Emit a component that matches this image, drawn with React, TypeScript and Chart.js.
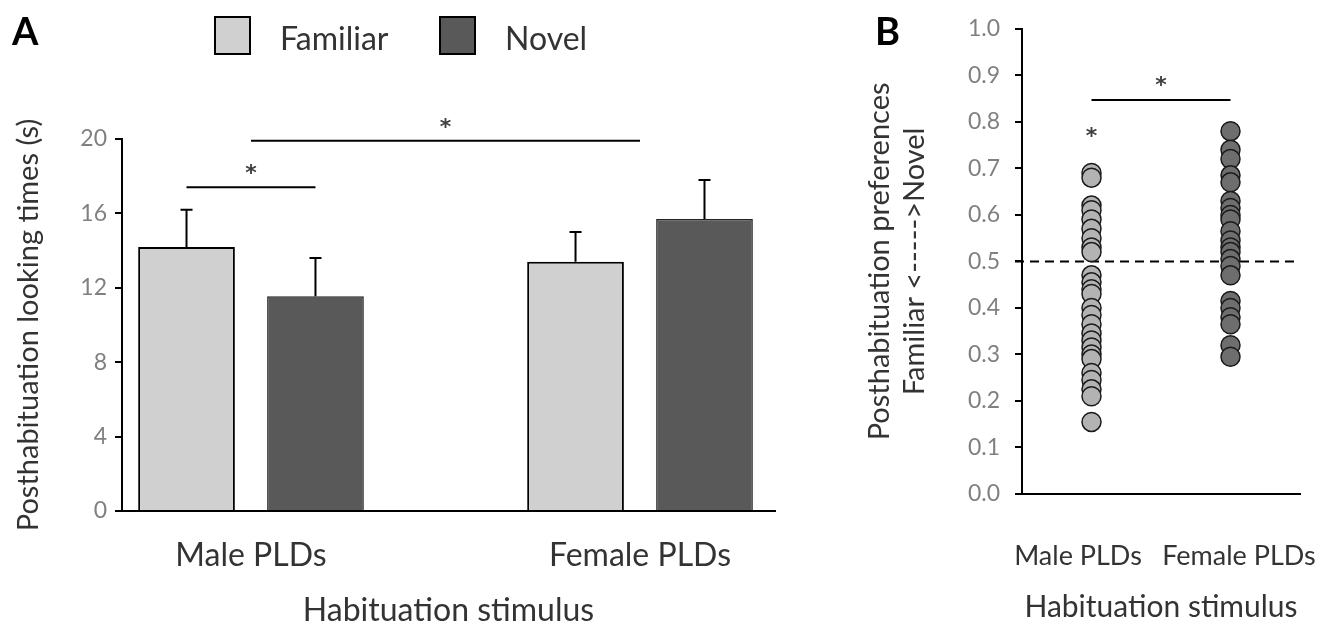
import React, { useEffect, useRef } from 'react';
import { Chart, registerables } from 'chart.js';

Chart.register(...registerables);

// ---------- Data ----------
const groups = ['Male PLDs', 'Female PLDs'];
const seriesNames = ['Familiar', 'Novel'];
const familiarMeans = [14.2, 13.4];
const familiarErrors = [2.0, 1.6];
const novelMeans = [11.55, 15.7];
const novelErrors = [2.05, 2.1];
const barYTicks = [0, 4, 8, 12, 16, 20];

const prefYTicks = [0, 0.1, 0.2, 0.3, 0.4, 0.5, 0.6, 0.7, 0.8, 0.9, 1.0];
const malePreferences = [0.69, 0.68, 0.62, 0.61, 0.59, 0.57, 0.55, 0.53, 0.52, 0.47, 0.455, 0.44, 0.43, 0.4, 0.385, 0.365, 0.345, 0.33, 0.315, 0.3, 0.29, 0.26, 0.245, 0.225, 0.21, 0.155];
const femalePreferences = [0.78, 0.74, 0.72, 0.685, 0.67, 0.63, 0.615, 0.6, 0.59, 0.565, 0.545, 0.53, 0.52, 0.505, 0.49, 0.47, 0.415, 0.4, 0.38, 0.365, 0.32, 0.295];
const chanceLevel = 0.5;

// significance markers: [group, series] (series -1 = group centre)
const barBrackets = [
  { left: [0, 0], right: [0, 1], level: 17.4, starLevel: 18.3 },
  { left: [0, -1], right: [1, -1], level: 19.9, starLevel: 20.8 },
];
const prefBracket = { left: 0, right: 1, level: 0.847, starLevel: 0.885 };
const prefSingleStar = { group: 0, level: 0.775 };

// ---------- Styles ----------
const FONT = "Lato, 'Open Sans', 'DejaVu Sans', sans-serif";
const TEXT = '#333333';
const TICK = '#808080';
const FAMILIAR_FILL = '#d0d0d0';
const NOVEL_FILL = '#595959';
const MALE_POINT = '#b3b3b3';
const FEMALE_POINT = '#6e6e6e';
const errorArrays = [familiarErrors, novelErrors];

function drawStar(ctx: CanvasRenderingContext2D, x: number, y: number) {
  ctx.save();
  ctx.fillStyle = '#404040';
  ctx.font = "bold 22px 'DejaVu Sans', sans-serif";
  ctx.textAlign = 'center';
  ctx.textBaseline = 'middle';
  ctx.fillText('*', x, y + 4);
  ctx.restore();
}

const panelAOverlay = {
  id: 'panelAOverlay',
  afterDraw(chart: any) {
    const ctx: CanvasRenderingContext2D = chart.ctx;
    const xs = chart.scales.x;
    const ys = chart.scales.y;
    ctx.save();
    // error bars
    chart.data.datasets.forEach((ds: any, di: number) => {
      const meta = chart.getDatasetMeta(di);
      meta.data.forEach((bar: any, gi: number) => {
        const v = ds.data[gi].y;
        const top = ys.getPixelForValue(v + errorArrays[di][gi]);
        ctx.strokeStyle = '#000';
        ctx.lineWidth = 2;
        ctx.beginPath();
        ctx.moveTo(bar.x, bar.y);
        ctx.lineTo(bar.x, top);
        ctx.moveTo(bar.x - 6, top);
        ctx.lineTo(bar.x + 6, top);
        ctx.stroke();
      });
    });
    // brackets
    const xOf = (g: number, s: number) =>
      s < 0 ? xs.getPixelForValue(g) : chart.getDatasetMeta(s).data[g].x;
    barBrackets.forEach((b) => {
      const x1 = xOf(b.left[0], b.left[1]);
      const x2 = xOf(b.right[0], b.right[1]);
      const y = ys.getPixelForValue(b.level);
      ctx.strokeStyle = '#000';
      ctx.lineWidth = 2;
      ctx.beginPath();
      ctx.moveTo(x1, y);
      ctx.lineTo(x2, y);
      ctx.stroke();
      drawStar(ctx, (x1 + x2) / 2, ys.getPixelForValue(b.starLevel));
    });
    // legend
    const fills = [FAMILIAR_FILL, NOVEL_FILL];
    const boxX = [215, 440];
    seriesNames.forEach((name, i) => {
      ctx.fillStyle = fills[i];
      ctx.fillRect(boxX[i], 17, 35, 37);
      ctx.strokeStyle = '#000';
      ctx.lineWidth = 2;
      ctx.strokeRect(boxX[i], 17, 35, 37);
      ctx.fillStyle = TEXT;
      ctx.font = `32px ${FONT}`;
      ctx.textAlign = 'left';
      ctx.textBaseline = 'middle';
      ctx.fillText(name, boxX[i] + 65, 40);
    });
    // panel label
    ctx.fillStyle = '#000';
    ctx.font = `bold 38px ${FONT}`;
    ctx.textAlign = 'left';
    ctx.textBaseline = 'middle';
    ctx.fillText('A', 12, 33);
    ctx.restore();
  },
};

const panelBUnder = {
  id: 'panelBUnder',
  beforeDatasetsDraw(chart: any) {
    const ctx: CanvasRenderingContext2D = chart.ctx;
    const ys = chart.scales.y;
    const area = chart.chartArea;
    const y = ys.getPixelForValue(chanceLevel);
    ctx.save();
    ctx.strokeStyle = '#000';
    ctx.lineWidth = 2;
    ctx.setLineDash([9, 6]);
    ctx.beginPath();
    ctx.moveTo(area.left - 7, y);
    ctx.lineTo(area.right - 3, y);
    ctx.stroke();
    ctx.restore();
  },
  afterDraw(chart: any) {
    const ctx: CanvasRenderingContext2D = chart.ctx;
    const xs = chart.scales.x;
    const ys = chart.scales.y;
    ctx.save();
    const x1 = xs.getPixelForValue(prefBracket.left);
    const x2 = xs.getPixelForValue(prefBracket.right);
    const y = ys.getPixelForValue(prefBracket.level);
    ctx.strokeStyle = '#000';
    ctx.lineWidth = 2;
    ctx.beginPath();
    ctx.moveTo(x1, y);
    ctx.lineTo(x2, y);
    ctx.stroke();
    drawStar(ctx, (x1 + x2) / 2, ys.getPixelForValue(prefBracket.starLevel));
    drawStar(ctx, xs.getPixelForValue(prefSingleStar.group), ys.getPixelForValue(prefSingleStar.level));
    ctx.fillStyle = '#000';
    ctx.font = `bold 38px ${FONT}`;
    ctx.textAlign = 'left';
    ctx.textBaseline = 'middle';
    ctx.fillText('B', 15, 33);
    ctx.restore();
  },
};

function configA(): any {
  return {
    type: 'bar',
    data: {
      datasets: [
        {
          label: seriesNames[0],
          data: groups.map((_, i) => ({ x: i, y: familiarMeans[i] })),
          backgroundColor: FAMILIAR_FILL,
          borderColor: '#000',
          borderWidth: 2,
        },
        {
          label: seriesNames[1],
          data: groups.map((_, i) => ({ x: i, y: novelMeans[i] })),
          backgroundColor: NOVEL_FILL,
          borderColor: '#222',
          borderWidth: 1.5,
        },
      ],
    },
    options: {
      animation: false,
      responsive: false,
      layout: { padding: { top: 139, right: 25, left: 0, bottom: 0 } },
      datasets: { bar: { categoryPercentage: 0.663, barPercentage: 0.75 } },
      plugins: { legend: { display: false }, tooltip: { enabled: false } },
      scales: {
        x: {
          type: 'linear',
          offset: false,
          min: -0.3316,
          max: 1.347,
          grid: { display: false, offset: false },
          border: { display: true, color: '#000', width: 2 },
          afterBuildTicks: (axis: any) => {
            axis.ticks = groups.map((_, i) => ({ value: i }));
          },
          ticks: {
            callback: (v: any) => groups[v] ?? '',
            font: { family: FONT, size: 32 },
            color: TEXT,
            padding: 17,
            autoSkip: false,
            maxRotation: 0,
          },
          title: {
            display: true,
            text: 'Habituation stimulus',
            font: { family: FONT, size: 32 },
            color: TEXT,
            padding: { top: 0, bottom: 5 },
          },
          afterFit: (axis: any) => {
            axis.height = 124;
            axis.paddingLeft = 0;
            axis.paddingRight = 0;
          },
        },
        y: {
          min: 0,
          max: 20,
          afterBuildTicks: (axis: any) => {
            axis.ticks = barYTicks.map((v) => ({ value: v }));
          },
          ticks: { font: { family: FONT, size: 23 }, color: TICK, padding: 8 },
          grid: { drawOnChartArea: false, drawTicks: true, tickLength: 7, color: '#000', lineWidth: 2 },
          border: { display: true, color: '#000', width: 2 },
          title: {
            display: true,
            text: 'Posthabituation looking times (s)',
            font: { family: FONT, size: 29 },
            color: TEXT,
            padding: { top: 11, bottom: 0 },
          },
          afterFit: (axis: any) => {
            axis.width = 122;
          },
        },
      },
    },
    plugins: [panelAOverlay],
  };
}

function configB(): any {
  return {
    type: 'line',
    data: {
      labels: groups,
      datasets: [
        {
          label: groups[0],
          data: malePreferences.map((v) => ({ x: groups[0], y: v })),
          showLine: false,
          pointRadius: 9.5,
          pointBackgroundColor: MALE_POINT,
          pointBorderColor: '#1a1a1a',
          pointBorderWidth: 1.5,
        },
        {
          label: groups[1],
          data: femalePreferences.map((v) => ({ x: groups[1], y: v })),
          showLine: false,
          pointRadius: 9.5,
          pointBackgroundColor: FEMALE_POINT,
          pointBorderColor: '#1a1a1a',
          pointBorderWidth: 1.5,
        },
      ],
    },
    options: {
      animation: false,
      responsive: false,
      layout: { padding: { top: 16, right: 35, left: 0, bottom: 0 } },
      plugins: { legend: { display: false }, tooltip: { enabled: false } },
      scales: {
        // axis line carrying the point positions
        x: {
          type: 'category',
          offset: true,
          weight: 0,
          grid: { display: false },
          border: { display: true, color: '#000', width: 2 },
          ticks: { display: false },
          title: { display: false },
          afterFit: (axis: any) => {
            axis.height = 0;
            axis.paddingLeft = 0;
            axis.paddingRight = 0;
          },
        },
        // label axis: group names spread a little wider than the point columns
        xLabels: {
          type: 'linear',
          position: 'bottom',
          weight: 1,
          min: -0.348,
          max: 1.379,
          offset: false,
          grid: { display: false },
          border: { display: false },
          afterBuildTicks: (axis: any) => {
            axis.ticks = groups.map((_, i) => ({ value: i }));
          },
          ticks: {
            callback: (v: any) => groups[v] ?? '',
            font: { family: FONT, size: 27 },
            color: TEXT,
            padding: 38,
            autoSkip: false,
            maxRotation: 0,
          },
          title: {
            display: true,
            text: 'Habituation stimulus',
            font: { family: FONT, size: 30 },
            color: TEXT,
            padding: { top: 0, bottom: 10 },
          },
          afterFit: (axis: any) => {
            axis.height = 141;
            axis.paddingLeft = 0;
            axis.paddingRight = 0;
          },
        },
        y: {
          min: 0,
          max: 1,
          afterBuildTicks: (axis: any) => {
            axis.ticks = prefYTicks.map((v) => ({ value: v }));
          },
          ticks: {
            callback: (v: any) => Number(v).toFixed(1),
            font: { family: FONT, size: 23 },
            color: TICK,
            padding: 15,
          },
          grid: { drawOnChartArea: false, drawTicks: true, tickLength: 7, color: '#000', lineWidth: 2 },
          border: { display: true, color: '#000', width: 2 },
          title: {
            display: true,
            text: ['Posthabituation preferences', 'Familiar <----->Novel'],
            font: { family: FONT, size: 29 },
            color: TEXT,
            padding: { top: 2, bottom: 0 },
          },
          afterFit: (axis: any) => {
            axis.width = 162;
          },
        },
      },
    },
    plugins: [panelBUnder],
  };
}

export default function App() {
  const refA = useRef<HTMLCanvasElement>(null);
  const refB = useRef<HTMLCanvasElement>(null);
  useEffect(() => {
    const a = new Chart(refA.current as HTMLCanvasElement, configA());
    const b = new Chart(refB.current as HTMLCanvasElement, configB());
    return () => {
      a.destroy();
      b.destroy();
    };
  }, []);
  return (
    <div style={{ position: 'absolute', left: 0, top: 0, width: 1335, height: 635, background: '#fff' }}>
      <canvas ref={refA} width={800} height={635} style={{ position: 'absolute', left: 0, top: 0, width: 800, height: 635 }} />
      <canvas ref={refB} width={475} height={635} style={{ position: 'absolute', left: 860, top: 0, width: 475, height: 635 }} />
    </div>
  );
}
